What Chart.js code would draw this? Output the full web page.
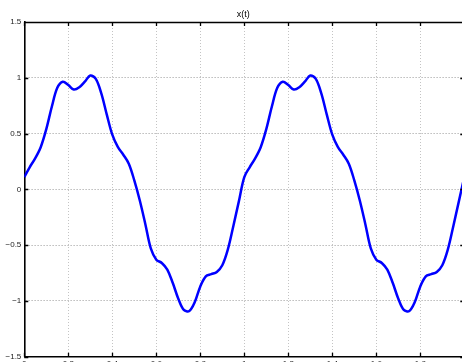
<!DOCTYPE html>
<html>
<head>
<meta charset="utf-8">
<title>x(t)</title>
<script src="https://cdn.jsdelivr.net/npm/chart.js@4.4.0/dist/chart.umd.min.js"></script>
<style>
  html, body { margin: 0; padding: 0; overflow: hidden; background: #fff; }
  #wrap { position: absolute; left: 0; top: 0; width: 488px; height: 380px; }
</style>
</head>
<body>
<div id="wrap"><canvas id="myChart" width="488" height="380"></canvas></div>
<script>
var titleText = "x(t)";

// sample times (s) and signal values
var timeValues = [
  0.000, 0.025, 0.050, 0.075, 0.100, 0.125, 0.150, 0.175, 0.200, 0.225,
  0.250, 0.275, 0.300, 0.325, 0.350, 0.375, 0.400, 0.425, 0.450, 0.475,
  0.500, 0.525, 0.550, 0.575, 0.600, 0.625, 0.650, 0.675, 0.700, 0.725,
  0.750, 0.775, 0.800, 0.825, 0.850, 0.875, 0.900, 0.925, 0.950, 0.975,
  1.000, 1.025, 1.050, 1.075, 1.100, 1.125, 1.150, 1.175, 1.200, 1.225,
  1.250, 1.275, 1.300, 1.325, 1.350, 1.375, 1.400, 1.425, 1.450, 1.475,
  1.500, 1.525, 1.550, 1.575, 1.600, 1.625, 1.650, 1.675, 1.700, 1.725,
  1.750, 1.775, 1.800, 1.825, 1.850, 1.875, 1.900, 1.925, 1.950, 1.975,
  2.000
];
var signalValues = [
  0.11, 0.20, 0.28, 0.38, 0.54, 0.74, 0.91, 0.965, 0.935, 0.895,
  0.915, 0.965, 1.02, 0.99, 0.86, 0.67, 0.49, 0.38, 0.31, 0.23,
  0.08, -0.10, -0.31, -0.53, -0.63, -0.66, -0.72, -0.84, -0.98, -1.08,
  -1.09, -1.01, -0.87, -0.78, -0.76, -0.74, -0.68, -0.54, -0.33, -0.11,
  0.11, 0.20, 0.28, 0.38, 0.54, 0.74, 0.91, 0.965, 0.935, 0.895,
  0.915, 0.965, 1.02, 0.99, 0.86, 0.67, 0.49, 0.38, 0.31, 0.23,
  0.08, -0.10, -0.31, -0.53, -0.63, -0.66, -0.72, -0.84, -0.98, -1.08,
  -1.09, -1.01, -0.87, -0.78, -0.76, -0.74, -0.68, -0.54, -0.33, -0.11,
  0.11
];
var xTicks = [0, 0.2, 0.4, 0.6, 0.8, 1, 1.2, 1.4, 1.6, 1.8, 2];
var yTicks = [-1.5, -1, -0.5, 0, 0.5, 1, 1.5];

var points = timeValues.map(function (t, i) { return { x: t, y: signalValues[i] }; });

function fmt(v) {
  var s = String(Math.round(v * 100) / 100);
  return s.replace('-', '\u2212');
}

// matlab style box: top and right edges plus inward tick marks
var boxTicks = {
  id: 'boxTicks',
  afterDraw: function (chart) {
    var ctx = chart.ctx, a = chart.chartArea;
    var xs = chart.scales.x, ys = chart.scales.y;
    var right = xs.getPixelForValue(2);
    ctx.save();
    ctx.strokeStyle = '#000';
    ctx.lineWidth = 1.3;
    ctx.beginPath();
    ctx.moveTo(a.left, a.top + 0.5);
    ctx.lineTo(right, a.top + 0.5);
    ctx.lineTo(right, a.bottom);
    xTicks.forEach(function (v) {
      var px = Math.round(xs.getPixelForValue(v)) + 0.5;
      ctx.moveTo(px, a.bottom);
      ctx.lineTo(px, a.bottom - 4);
      ctx.moveTo(px, a.top);
      ctx.lineTo(px, a.top + 4);
    });
    yTicks.forEach(function (v) {
      var py = Math.round(ys.getPixelForValue(v)) + 0.5;
      ctx.moveTo(a.left, py);
      ctx.lineTo(a.left + 4, py);
      ctx.moveTo(right, py);
      ctx.lineTo(right - 4, py);
    });
    ctx.stroke();
    ctx.restore();
  }
};

var ctx = document.getElementById('myChart');
var myChart = new Chart(ctx, {
  type: 'scatter',
  data: {
    datasets: [{
      data: points,
      showLine: true,
      borderColor: '#0000ff',
      backgroundColor: '#0000ff',
      borderWidth: 2.5,
      pointRadius: 0,
      tension: 0.35
    }]
  },
  options: {
    responsive: false,
    animation: false,
    devicePixelRatio: 1,
    layout: { padding: { left: 0, right: 1.7, top: 0, bottom: 0 } },
    plugins: {
      legend: { display: false },
      tooltip: { enabled: false },
      title: {
        display: true,
        text: titleText,
        color: '#000',
        font: { family: 'Liberation Sans, Arial, sans-serif', size: 9, weight: 'normal' },
        padding: { top: 9, bottom: 2.2 }
      }
    },
    scales: {
      x: {
        type: 'linear',
        min: 0,
        max: 2.1,
        afterFit: function (s) { s.height = 23.3; },
        afterBuildTicks: function (s) { s.ticks = xTicks.map(function (v) { return { value: v }; }); },
        grid: { color: '#c4c4c4', drawTicks: false },
        border: { display: true, color: '#000', width: 1.6, dash: [1, 2] },
        ticks: {
          padding: 2,
          color: '#222',
          font: { family: 'Liberation Sans, Arial, sans-serif', size: 8 },
          callback: function (v) { return fmt(v); }
        }
      },
      y: {
        type: 'linear',
        min: -1.5,
        max: 1.5,
        afterFit: function (s) { s.width = 24.3; },
        afterBuildTicks: function (s) { s.ticks = yTicks.map(function (v) { return { value: v }; }); },
        grid: { color: '#999', drawTicks: false },
        border: { display: true, color: '#000', width: 1.6, dash: [1, 2] },
        ticks: {
          padding: 3,
          color: '#222',
          font: { family: 'Liberation Sans, Arial, sans-serif', size: 8 },
          callback: function (v) { return fmt(v); }
        }
      }
    }
  },
  plugins: [boxTicks]
});
</script>
</body>
</html>
